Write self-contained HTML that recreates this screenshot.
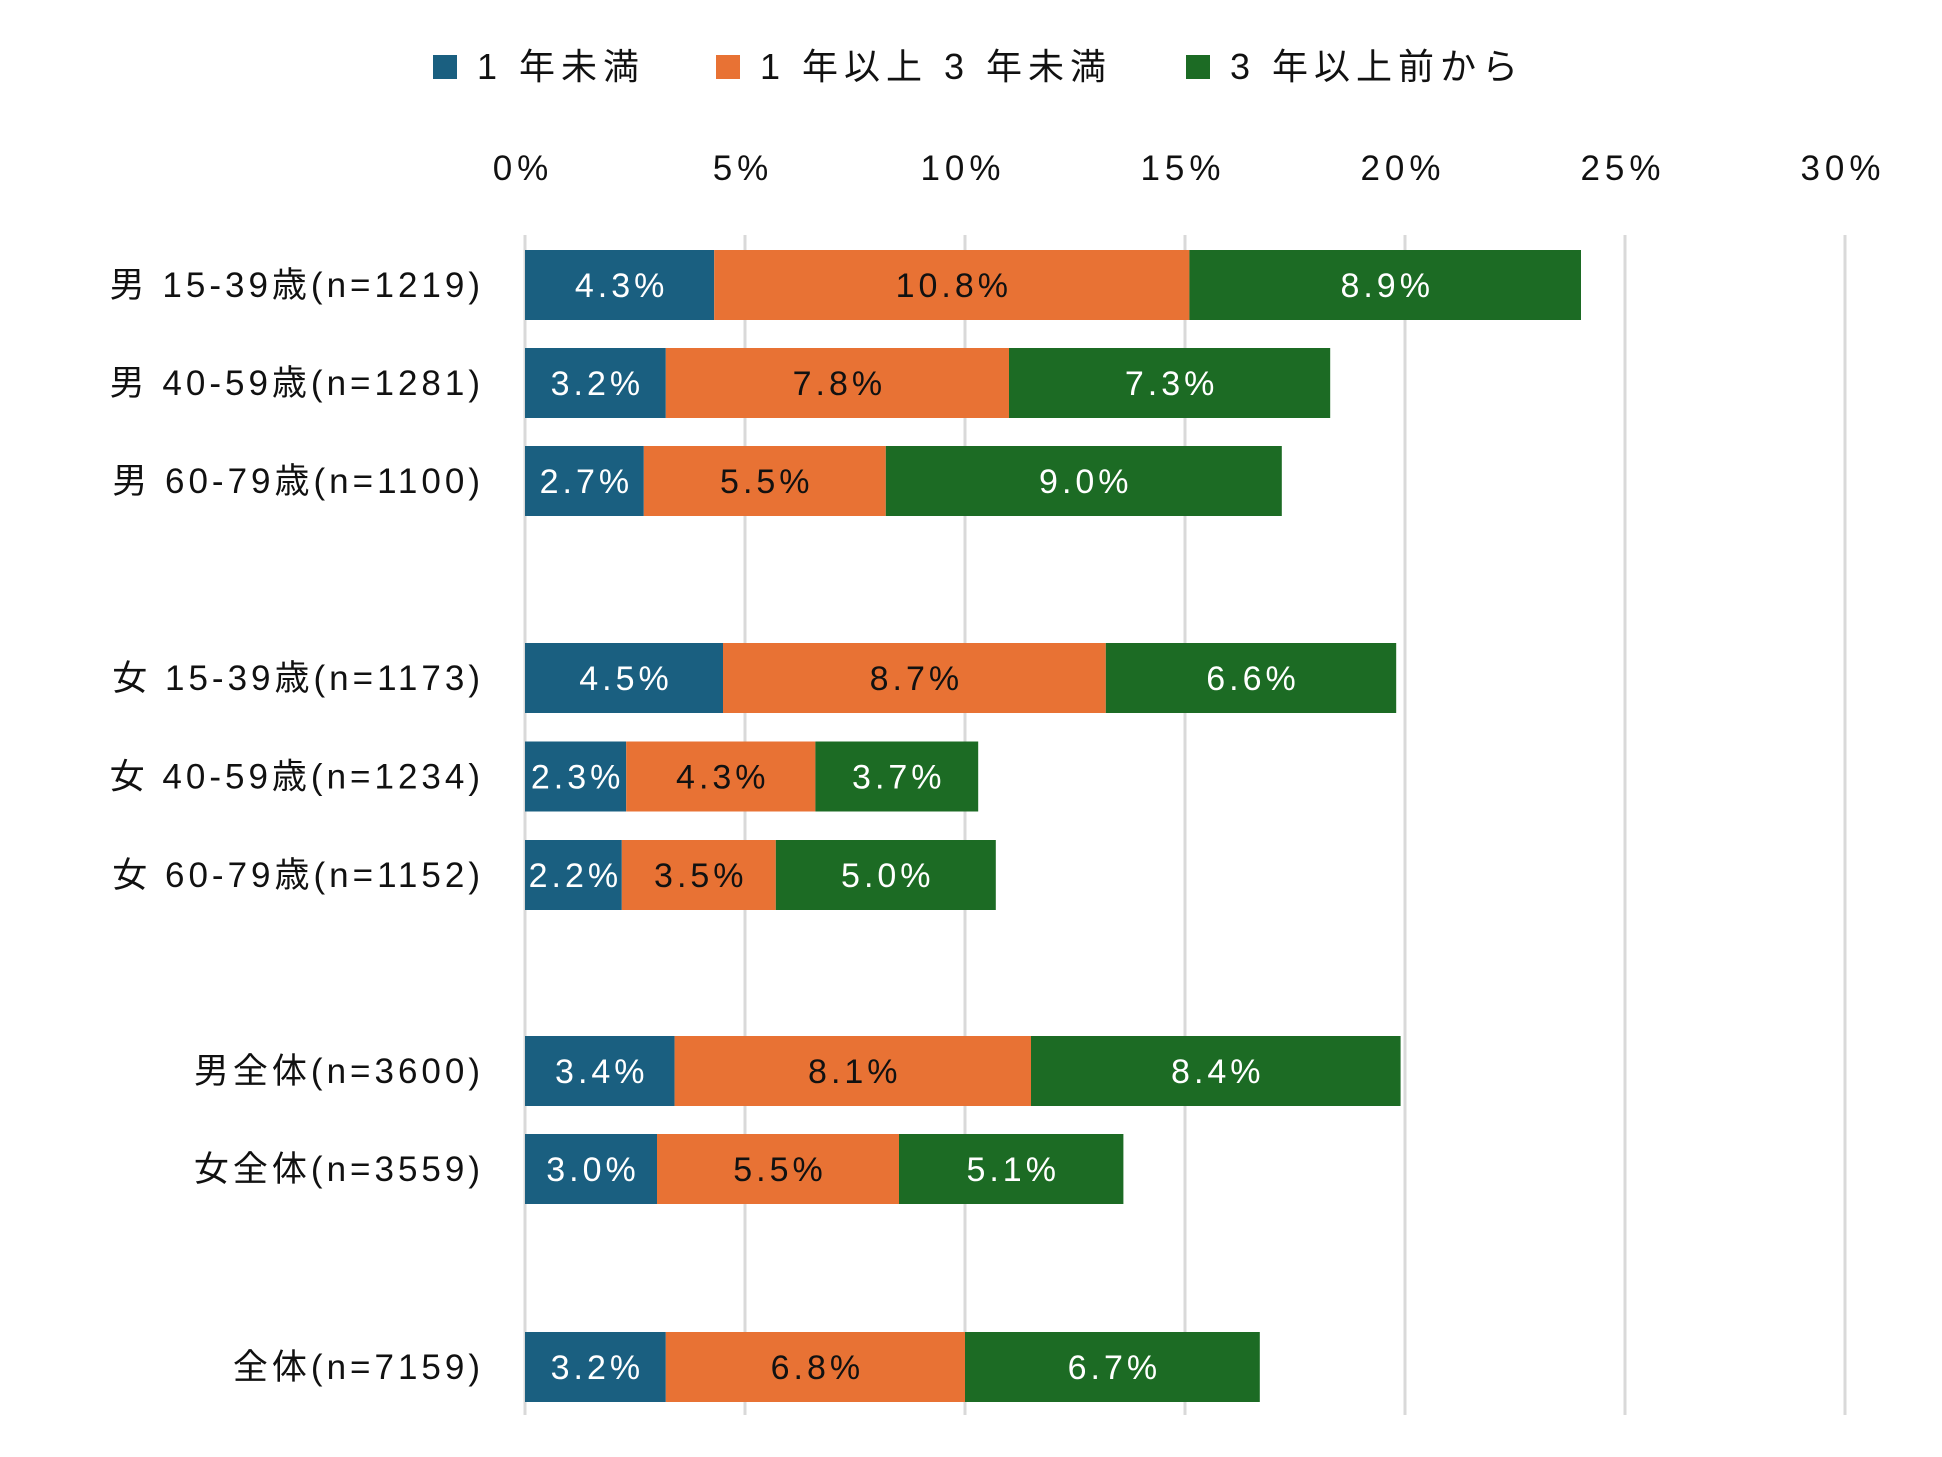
<!DOCTYPE html>
<html><head><meta charset="utf-8"><style>
html,body{margin:0;padding:0;background:#fff;}
svg{display:block;font-family:"Liberation Sans","Noto Sans CJK JP",sans-serif;}
</style></head><body>
<svg id="chart" width="1942" height="1457" viewBox="0 0 1942 1457">
<g id="legend"></g>
<g id="grid"></g>
<g id="xticks"></g>
<g id="bars"></g>
<g id="labels"></g>
</svg>
<script>
const categories = ["男 15-39歳(n=1219)","男 40-59歳(n=1281)","男 60-79歳(n=1100)","女 15-39歳(n=1173)","女 40-59歳(n=1234)","女 60-79歳(n=1152)","男全体(n=3600)","女全体(n=3559)","全体(n=7159)"];
const seriesNames = ["1 年未満","1 年以上 3 年未満","3 年以上前から"];
const under1 = [4.3,3.2,2.7,4.5,2.3,2.2,3.4,3.0,3.2];
const from1to3 = [10.8,7.8,5.5,8.7,4.3,3.5,8.1,5.5,6.8];
const over3 = [8.9,7.3,9.0,6.6,3.7,5.0,8.4,5.1,6.7];
const tickValues = [0,5,10,15,20,25,30];
const tickLabels = ["0%","5%","10%","15%","20%","25%","30%"];
const rowSlots = [0,1,2,4,5,6,8,9,11]; // row positions incl. gaps

const NS="http://www.w3.org/2000/svg";
const colors=["#1a5f80","#e87234","#1c6b24"];
const textColors=["#fff","#111","#fff"];
const x0=525, pxPerPct=44, barH=70;
const xs=v=>x0+v*pxPerPct;
const slotY=s=>285+(s<=2?s*98:s<=6?678+(s-4)*98.5-285:s<=9?1071+(s-8)*98-285:1367-285);
const ys=i=>slotY(rowSlots[i]);
function mk(tag,attrs,parent,txt){const e=document.createElementNS(NS,tag);for(const k in attrs)e.setAttribute(k,attrs[k]);if(txt!==undefined)e.textContent=txt;parent.appendChild(e);return e;}

// grid + ticks
const grid=document.getElementById('grid'), xt=document.getElementById('xticks');
tickValues.forEach((t,i)=>{
  const l=mk('line',{x1:xs(t),x2:xs(t),y1:235,y2:1415,stroke:'#d9d9d9','stroke-width':3},grid);
  
  
  const tx=mk('text',{x:xs(t)-2,y:180,'text-anchor':'middle','font-size':35,'letter-spacing':5,fill:'#111'},xt,tickLabels[i]);
  
  
});

// bars
const bars=document.getElementById('bars');
const series=[under1,from1to3,over3];
categories.forEach((c,i)=>{
  let acc=0;
  const cy=ys(i);
  series.forEach((s,k)=>{
    const v=s[i];
    const r=mk('rect',{x:xs(acc),y:cy-barH/2,width:xs(acc+v)-xs(acc),height:barH,fill:colors[k]},bars);
    
    
    const t=mk('text',{x:(xs(acc)+xs(acc+v))/2+2,y:cy+12,'text-anchor':'middle','font-size':34,'letter-spacing':4,fill:textColors[k]},bars,v.toFixed(1)+'%');
    
    
    acc+=v;
  });
  const lab=mk('text',{x:484,y:cy+12,'text-anchor':'end','font-size':35,'letter-spacing':4,fill:'#111'},document.getElementById('labels'),c);
  
  
});

// legend
const lg=document.getElementById('legend');
const legX=[433,716,1186];
seriesNames.forEach((n,k)=>{
  const r=mk('rect',{x:legX[k],y:55,width:24,height:24,fill:colors[k]},lg);
  
  
  const t=mk('text',{x:legX[k]+44,y:79,'font-size':36,'letter-spacing':6,fill:'#111'},lg,n);
  
  
});
</script>
</body></html>
